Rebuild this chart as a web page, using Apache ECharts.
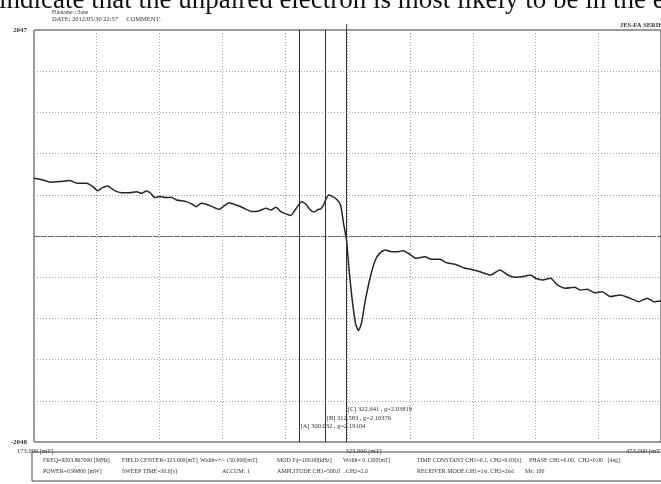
<!DOCTYPE html>
<html>
<head>
<meta charset="utf-8">
<script src="https://cdn.jsdelivr.net/npm/echarts@6/dist/echarts.min.js"></script>
<style>
  html, body { margin: 0; padding: 0; background: #fff; }
  #chart { width: 661px; height: 484px; }
</style>
</head>
<body>
<div id="chart"></div>
<script>
// ESR first-derivative spectrum, field in mT, signal in ADC counts
const fieldMT = [
  173.00, 177.29, 180.62, 185.38, 190.14, 193.48, 198.24, 201.10, 203.48, 205.86,
  208.24, 211.57, 214.90, 218.71, 222.05, 224.43, 226.81, 229.19, 230.62, 233.00,
  236.33, 238.71, 241.10, 245.86, 248.71, 250.62, 253.00, 255.38, 258.24, 261.57,
  263.95, 266.33, 269.67, 272.52, 277.29, 280.62, 283.95, 286.33, 288.71, 291.10,
  293.48, 295.86, 298.24, 301.10, 303.48, 304.43, 306.81, 309.19, 310.14, 311.57,
  312.52, 313.95, 315.38, 317.76, 319.67, 321.10, 322.52, 323.48, 324.90, 326.81,
  328.24, 329.67, 331.57, 333.95, 336.33, 338.71, 341.10, 343.95, 347.29, 349.67,
  352.05, 355.86, 360.14, 363.00, 367.29, 370.14, 374.43, 379.19, 382.05, 386.33,
  391.57, 395.86, 399.67, 403.48, 408.24, 410.62, 413.00, 416.33, 420.14, 423.48,
  427.29, 431.57, 434.43, 437.76, 441.10, 444.90, 448.71, 453.48, 458.24, 462.52,
  466.33, 469.67, 473.00
];
const signal = [
   574,  557,  534,  540,  550,  524,  524,  490,  450,  480,
   497,  450,  430,  430,  440,  424,  447,  417,  381,  391,
   381,  385,  358,  341,  315,  291,  325,  315,  291,  265,
   298,  331,  308,  285,  242,  249,  275,  258,  285,  242,
   219,  204,  268,  341,  308,  275,  239,  265,  268,  308,
   358,  408,  398,  365,  308,  126,  -40, -271, -570, -868,
  -941, -868, -636, -405, -239, -166, -139, -156, -156, -146,
  -172, -222, -206, -232, -232, -265, -281, -321, -331, -355,
  -388, -338, -388, -411, -398, -388, -420, -437, -420, -487,
  -520, -510, -537, -530, -564, -554, -603, -586, -619, -653,
  -619, -653, -646
];

// Cursor markers with resonance field and g-value
const markerNames = ['A', 'B', 'C'];
const markerField = [300.032, 312.583, 322.641];
const markerG = ['2.19104', '2.10376', '2.03819'];

// Axis ranges and labels
const fieldTicks = [173, 323, 473];
const countRange = [-2048, 2047];

// Page header / instrument parameter block
const pageLine = 'indicate that the unpaired electron is most likely to be in the e';
const fileName = 'Filename: c3ane';
const dateLine = 'DATE: 2012/05/30 22:57     COMMENT:';
const instrument = 'JES-FA SERIES';
const paramRow1 = [
  'FREQ=9203.867000 [MHz]', 'FIELD CENTER=323.000[mT]', 'Width=+/- 150.000[mT]',
  'MOD Fq=100.00[kHz]', 'Width= 0.1200[mT]', 'TIME CONSTANT CH1=0.1, CH2=0.03[s]',
  'PHASE CH1=0.00,  CH2=0.00   [deg]'
];
const paramRow2 = [
  'POWER=0.99800 [mW]', 'SWEEP TIME=30.0[s]', 'ACCUM: 1',
  'AMPLITUDE CH1=500.0  , CH2=2.0', 'RECEIVER MODE CH1=1st, CH2=2nd', 'Ms: 100'
];

const SERIF = '"Liberation Serif", "Times New Roman", serif';
const INK = '#262626';
const GRID = { left: 34, right: -3, top: 30, bottom: 42 };

const chart = echarts.init(document.getElementById('chart'), null, { renderer: 'canvas' });

const dotted = { show: true, lineStyle: { color: '#a0a0a0', width: 1, type: [1, 2] } };

chart.setOption({
  animation: false,
  backgroundColor: '#fff',
  grid: Object.assign({ show: true, borderColor: '#333', borderWidth: 1, backgroundColor: 'transparent' }, GRID),
  xAxis: [
    { type: 'value', min: fieldTicks[0], max: fieldTicks[2],
      axisLine: { show: false }, axisTick: { show: false }, axisLabel: { show: false }, splitLine: { show: false } },
    // ten divisions across the sweep
    { type: 'value', min: 0, max: 10, interval: 1, position: 'bottom',
      axisLine: { show: false }, axisTick: { show: false }, axisLabel: { show: false }, splitLine: dotted }
  ],
  yAxis: [
    { type: 'value', min: countRange[0], max: countRange[1],
      axisLine: { show: false }, axisTick: { show: false }, splitLine: { show: false },
      axisLabel: {
        show: true, margin: 7, fontSize: 7, fontWeight: 'bold', color: '#333', fontFamily: SERIF,
        formatter: v => (v === countRange[0] || v === countRange[1]) ? String(v) : ''
      } },
    // ten divisions vertically
    { type: 'value', min: -5, max: 5, interval: 1,
      axisLine: { show: false }, axisTick: { show: false }, axisLabel: { show: false }, splitLine: dotted }
  ],
  series: [
    {
      type: 'line',
      xAxisIndex: 0, yAxisIndex: 0,
      data: fieldMT.map((f, i) => [f, signal[i]]),
      showSymbol: false,
      smooth: 0.2,
      lineStyle: { color: INK, width: 1.5 },
      markLine: {
        silent: true,
        symbol: 'none',
        label: { show: false },
        data: [
          [{ coord: [fieldTicks[0], 0], lineStyle: { color: '#666', width: 1, type: [6, 1] } },
           { coord: [fieldTicks[2], 0] }],
          ...markerField.map(f => [
            { coord: [f, countRange[1]], lineStyle: { color: '#333', width: 1, type: 'solid' } },
            { coord: [f, countRange[0]] }
          ])
        ]
      }
    }
  ]
});

// Text annotations placed through the axis scales
const px = (f, v) => chart.convertToPixel({ xAxisIndex: 0, yAxisIndex: 0 }, [f, v]);
const txt = (x, y, text, size, extra) => ({
  type: 'text', x, y, silent: true,
  style: Object.assign({ text, fontSize: size, fontFamily: SERIF, fill: '#333', verticalAlign: 'middle' }, extra || {})
});

const bottomPx = px(fieldTicks[0], countRange[0])[1];
const topPx = px(fieldTicks[0], countRange[1])[1];
const graphics = [];

graphics.push(txt(-1, 1, pageLine, 27, { fill: '#111' }));
graphics.push(txt(52, 12.5, fileName, 5.5));
graphics.push(txt(52, 19.5, dateLine, 6.5));
graphics.push(txt(620, 25, instrument, 6.5, { fontWeight: 'bold' }));

// the C cursor runs a little past the upper frame edge
const cTop = px(markerField[2], countRange[1]);
graphics.push({ type: 'line', silent: true,
  shape: { x1: cTop[0], y1: topPx - 6, x2: cTop[0], y2: topPx },
  style: { stroke: '#333', lineWidth: 1 } });

// marker readouts, stacked above the lower frame edge
const markerDy = [16, 24, 33];
markerField.forEach((f, i) => {
  const p = px(f, countRange[0]);
  graphics.push(txt(p[0] + 1, bottomPx - markerDy[i],
    '[' + markerNames[i] + '] ' + f.toFixed(3) + ' , g=' + markerG[i], 6.5));
});

// sweep field labels under the frame
const tickShift = [-17, -2, -35];
fieldTicks.forEach((f, i) => {
  const p = px(f, countRange[0]);
  graphics.push(txt(p[0] + tickShift[i], bottomPx + 9, f.toFixed(3) + ' [mT]', 6.5));
});

// parameter block
graphics.push({ type: 'rect', silent: true, shape: { x: 32, y: 452, width: 640, height: 29 },
  style: { fill: 'none', stroke: '#444', lineWidth: 1 } });
const row1X = [43, 122, 200, 277, 343, 417, 529];
const row2X = [43, 122, 222, 277, 417, 525];
paramRow1.forEach((t, i) => graphics.push(txt(row1X[i], 460, t, 5.9)));
paramRow2.forEach((t, i) => graphics.push(txt(row2X[i], 471, t, 5.9)));

chart.setOption({ graphic: graphics });
</script>
</body>
</html>
